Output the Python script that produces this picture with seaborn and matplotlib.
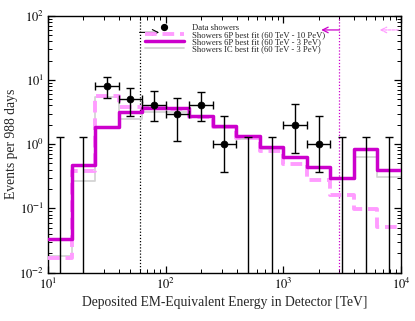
import matplotlib
matplotlib.use("Agg")
import matplotlib.pyplot as plt
from matplotlib.lines import Line2D
import numpy as np
import pandas as pd
import seaborn as sns

###### data
# energy bins [TeV], 0.2 decade wide
bin_edges = [10.0, 15.85, 25.12, 39.81, 63.10, 100.0, 158.5, 251.2, 398.1,
             631.0, 1000.0, 1585.0, 2512.0, 3981.0, 6310.0, 10000.0]
bin_centers = [12.59, 19.95, 31.62, 50.12, 79.43, 125.9, 199.5, 316.2,
               501.2, 794.3, 1259.0, 1995.0, 3162.0, 5012.0, 7943.0]

# observed showers and 68% intervals
data_counts = [0, 0, 8, 5, 4, 3, 4, 1, 0, 0, 2, 1, 0, 0, 0]
data_upper = [1.29, 1.29, 11.2, 7.4, 6.7, 5.2, 6.6, 2.7, 1.29, 1.29, 4.2, 2.75, 1.29, 1.29, 1.29]
data_lower = [0, 0, 5.3, 2.7, 2.3, 1.1, 2.3, 0.37, 0, 0, 0.74, 0.37, 0, 0, 0]

# model expectations
fit_6p_10pev = [0.017, 0.38, 5.6, 3.76, 3.8, 3.5, 2.65, 1.85, 1.26, 0.78, 0.49, 0.28, 0.16, 0.098, 0.052]
fit_6p_3pev = [0.033, 0.47, 1.83, 3.2, 3.7, 3.6, 2.75, 1.94, 1.33, 0.91, 0.625, 0.44, 0.30, 0.84, 0.40]
fit_ic = [0.018, 0.27, 5.4, 2.47, 3.2, 3.2, 2.6, 1.8, 1.22, 0.85, 0.6, 0.42, 0.29, 0.64, 0.31]

labels = ["Showers 6P best fit (60 TeV - 10 PeV)",
          "Showers 6P best fit (60 TeV - 3 PeV)",
          "Showers IC best fit (60 TeV - 3 PeV)"]

###### style
sns.set_style("ticks")
plt.rcParams['font.family'] = ['Liberation Serif', 'DejaVu Serif']
plt.rcParams['mathtext.fontset'] = 'stix'

fig = plt.figure(figsize=(4.15, 3.21), dpi=100)
ax = fig.add_axes([0.1157, 0.1508, 0.8505, 0.8003])
ax.set_xscale('log')
ax.set_yscale('log')

###### histograms (step lines)
def steps(vals):
    return pd.DataFrame({'E': bin_edges, 'N': list(vals) + [vals[-1]]})

sns.lineplot(data=steps(fit_ic), x='E', y='N', drawstyle='steps-post',
             color='#d4d4d4', lw=1.3, ax=ax, label=labels[2], zorder=2)
sns.lineplot(data=steps(fit_6p_10pev), x='E', y='N', drawstyle='steps-post',
             color='#ff9cff', lw=2.8, dashes=(3.0, 1.5), ax=ax, label=labels[0], zorder=3)
sns.lineplot(data=steps(fit_6p_3pev), x='E', y='N', drawstyle='steps-post',
             color='#cc00cc', lw=2.5, ax=ax, label=labels[1], zorder=4)

###### data points
df = pd.DataFrame({'E': bin_centers, 'N': data_counts, 'up': data_upper, 'lo': data_lower,
                   'el': bin_edges[:-1], 'eh': bin_edges[1:]})
seen = df[df.N > 0]
empty = df[df.N == 0]

ax.errorbar(seen.E, seen.N, xerr=[seen.E - seen.el, seen.eh - seen.E],
            yerr=[seen.N - seen.lo, seen.up - seen.N], fmt='none',
            ecolor='black', elinewidth=1.0, capsize=2.6, capthick=1.0, zorder=5)
ax.errorbar(empty.E, empty.up, yerr=[empty.up - 1e-3, empty.up * 0], fmt='none',
            ecolor='black', elinewidth=1.0, capsize=2.6, capthick=1.0, zorder=5)
sns.scatterplot(data=seen, x='E', y='N', color='black', s=26, edgecolor='black',
                ax=ax, label='Data showers', zorder=6)

###### energy range markers
ax.axvline(60, color='black', ls=(0, (1, 1.5)), lw=0.9, zorder=1)
ax.axvline(3000, color='#cc00cc', ls=(0, (1, 1.5)), lw=0.9, zorder=1)
ax.annotate('', xy=(88, 55), xytext=(60, 55),
            arrowprops=dict(arrowstyle='->', color='black', lw=0.8, shrinkA=0, shrinkB=0))
ax.annotate('', xy=(2100, 60), xytext=(3000, 60),
            arrowprops=dict(arrowstyle='->', color='#cc00cc', lw=0.9, shrinkA=0, shrinkB=0))
ax.annotate('', xy=(6600, 60), xytext=(9500, 60),
            arrowprops=dict(arrowstyle='->', color='#ff9cff', lw=0.9, ls=(0, (2, 1)),
                            shrinkA=0, shrinkB=0))

###### axes
ax.set_xlim(10, 1e4)
ax.set_ylim(1e-2, 1e2)
ax.set_xticks([10, 100, 1000, 10000])
ax.set_xticklabels([r'$10^{1}$', r'$10^{2}$', r'$10^{3}$', r'$10^{4}$'])
ax.set_yticks([1e-2, 1e-1, 1, 10, 100])
ax.set_yticklabels([r'$10^{-2}$', r'$10^{-1}$', r'$10^{0}$', r'$10^{1}$', r'$10^{2}$'])
ax.tick_params(which='both', direction='in', top=True, right=True, colors='black')
ax.tick_params(which='major', length=5, width=0.9, labelsize=9, pad=3)
ax.tick_params(which='minor', length=2.6, width=0.7)
for s in ax.spines.values():
    s.set_linewidth(1.0)
    s.set_color('black')

ax.set_xlabel('Deposited EM-Equivalent Energy in Detector [TeV]', fontsize=9.8, labelpad=3)
ax.set_ylabel('Events per 988 days', fontsize=9.8, labelpad=1)

###### legend
h, l = ax.get_legend_handles_labels()
order = ['Data showers'] + labels
handles = []
for name in order:
    art = h[l.index(name)]
    if name == 'Data showers':
        art = Line2D([], [], marker='o', ls='none', color='black', markersize=4.2)
    handles.append(art)
ax.legend(handles, order, loc='upper left', bbox_to_anchor=(145 / 415, 1 - 24 / 321),
          bbox_transform=fig.transFigure, frameon=False, fontsize=6.2,
          labelspacing=-0.12, handlelength=4.5, handletextpad=1.0,
          borderpad=0, borderaxespad=0)

fig.savefig('out.png', dpi=100)
